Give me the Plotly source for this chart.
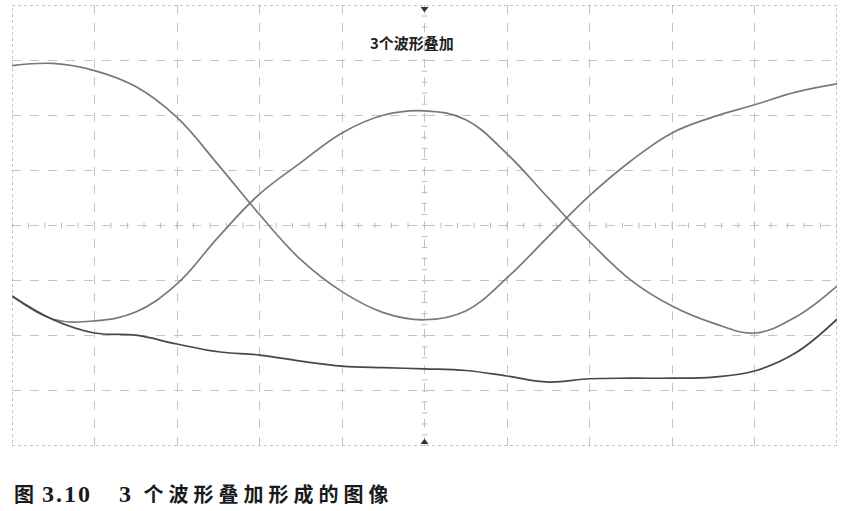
import plotly.graph_objects as go
import numpy as np

# time axis in divisions (10 horizontal divisions)
t = [0, 0.5, 1, 1.5, 2, 2.5, 3, 3.5, 4, 4.5, 5, 5.5, 6, 6.5, 7, 7.5, 8, 8.5, 9, 9.5, 10]

# waveform values in vertical divisions (-4 .. 4)
wave_a = [2.90, 2.94, 2.81, 2.52, 1.96, 1.10, 0.20, -0.62, -1.20, -1.58, -1.71,
          -1.55, -0.95, -0.20, 0.54, 1.17, 1.68, 1.97, 2.19, 2.42, 2.57]
wave_b = [-1.28, -1.70, -1.73, -1.57, -1.06, -0.21, 0.57, 1.14, 1.68, 2.00, 2.08,
          1.92, 1.30, 0.50, -0.29, -0.99, -1.46, -1.77, -1.95, -1.66, -1.10]
wave_c = [-1.28, -1.71, -1.95, -1.99, -2.15, -2.29, -2.35, -2.46, -2.55, -2.58, -2.60,
          -2.63, -2.73, -2.84, -2.78, -2.77, -2.77, -2.75, -2.64, -2.31, -1.70]

title_text = "3个波形叠加"
caption_fig = "图"
caption_num = "3.10"
caption_count = "3"
caption_words = "个波形叠加形成的图像"

fig = go.Figure()

# centre-line minor ticks
yt = np.arange(-4, 4.001, 0.2)
xt = np.arange(0, 10.001, 0.2)
fig.add_trace(go.Scatter(x=[5] * len(yt), y=yt, mode="markers",
                         marker=dict(symbol="line-ew", size=4, line=dict(width=1, color="#bdbdbd")),
                         hoverinfo="skip", showlegend=False))
fig.add_trace(go.Scatter(x=xt, y=[0] * len(xt), mode="markers",
                         marker=dict(symbol="line-ns", size=4, line=dict(width=1, color="#bdbdbd")),
                         hoverinfo="skip", showlegend=False))

for w, col in [(wave_a, "#787878"), (wave_b, "#787878"), (wave_c, "#474747")]:
    fig.add_trace(go.Scatter(x=t, y=w, mode="lines",
                             line=dict(color=col, width=1.7, shape="spline", smoothing=1.1),
                             showlegend=False))

# trigger markers
fig.add_trace(go.Scatter(x=[5, 5], y=[3.93, -3.93], mode="markers",
                         marker=dict(symbol=["triangle-down", "triangle-up"], size=7, color="#333"),
                         cliponaxis=False, showlegend=False, hoverinfo="skip"))

fig.add_shape(type="rect", xref="x", yref="y", x0=0, x1=10, y0=-4, y1=4,
              line=dict(color="#8a8a8a", width=1, dash="dot"), layer="above")

fig.add_annotation(text=title_text, xref="paper", yref="paper", x=0.4845, y=0.915,
                   xanchor="center", yanchor="middle", showarrow=False,
                   font=dict(family="Noto Sans CJK SC", size=15, color="#222", weight="bold"))

serif = "font-family:'Liberation Serif';font-size:24px;"
caption_html = ('<span style="letter-spacing:8px">' + caption_fig + '</span>'
                + '<span style="' + serif + 'letter-spacing:2px">' + caption_num + '</span>'
                + '<span style="' + serif + 'letter-spacing:3px">   ' + caption_count + '</span>'
                + '<span style="letter-spacing:5px"> ' + caption_words + '</span>')

fig.add_annotation(
    text=caption_html,
    xref="paper", yref="paper", x=0.0, y=-0.1066,
    xanchor="left", yanchor="middle", showarrow=False,
    font=dict(family="Noto Sans CJK SC", size=20, color="#1a1a1a", weight="bold"))

fig.update_layout(
    width=843, height=511,
    margin=dict(l=12, r=6, t=5, b=65),
    paper_bgcolor="white", plot_bgcolor="white",
    xaxis=dict(range=[0, 10], dtick=1, tick0=0, showgrid=True, gridcolor="#c4c4c4",
               griddash="dash", gridwidth=1, showticklabels=False, zeroline=False, ticks=""),
    yaxis=dict(range=[-4, 4], dtick=1, tick0=-4, showgrid=True, gridcolor="#c4c4c4",
               griddash="dash", gridwidth=1, showticklabels=False, zeroline=False, ticks=""),
)

fig.write_html("out.html")
